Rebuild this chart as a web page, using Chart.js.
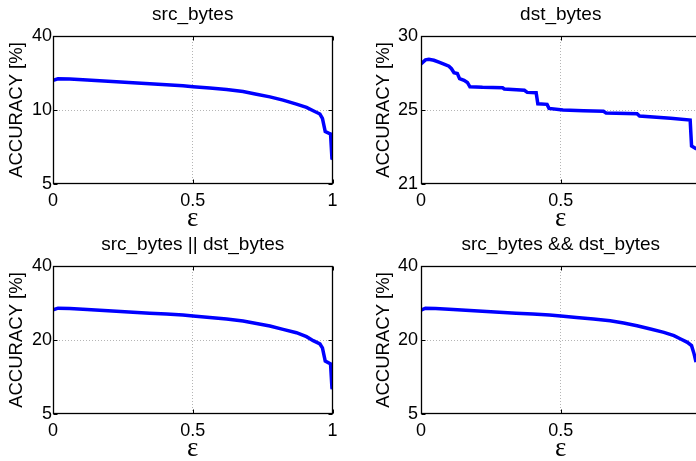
<!DOCTYPE html>
<html>
<head>
<meta charset="utf-8">
<title>ACCURACY vs ε</title>
<script src="https://cdn.jsdelivr.net/npm/chart.js@4.4.1/dist/chart.umd.min.js"></script>
<style>
  html, body { margin: 0; padding: 0; background: #fff; overflow: hidden; width: 696px; height: 461px; }
  canvas { position: absolute; }
</style>
</head>
<body>
<canvas id="c-src" width="348" height="230" style="left:0;top:0"></canvas>
<canvas id="c-dst" width="368" height="230" style="left:348px;top:0"></canvas>
<canvas id="c-or" width="348" height="230" style="left:0;top:230px"></canvas>
<canvas id="c-and" width="368" height="230" style="left:348px;top:230px"></canvas>
<script>
// ---- data ----
const xTicks = [0, 0.5, 1];

const srcEps = [0, 0.018, 0.06, 0.107, 0.167, 0.227, 0.286, 0.346, 0.406, 0.465, 0.501, 0.561, 0.621, 0.68,
                0.728, 0.776, 0.823, 0.871, 0.907, 0.931, 0.955, 0.964, 0.974, 0.988, 0.993, 0.998, 1.0];
const srcAcc = [22.0, 22.67, 22.53, 22.27, 21.87, 21.47, 21.07, 20.67, 20.27, 19.87, 19.47, 18.93, 18.27, 17.47,
                16.4, 15.33, 14.0, 12.4, 11.07, 9.95, 9.73, 9.44, 8.54, 8.42, 8.38, 6.73, 6.67];
const srcTicks = [5, 10, 40];

const dstEps = [0, 0.016, 0.028, 0.046, 0.064, 0.082, 0.1, 0.109, 0.118, 0.13, 0.138, 0.154, 0.166, 0.175,
                0.22, 0.292, 0.298, 0.37, 0.38, 0.412, 0.418, 0.451, 0.458, 0.508, 0.581, 0.653, 0.662, 0.773,
                0.782, 0.893, 0.963, 0.968, 0.983, 1.0];
const dstAcc = [28.12, 28.39, 28.43, 28.36, 28.23, 28.10, 27.96, 27.79, 27.52, 27.46, 27.12, 27.01, 26.86, 26.57,
                26.53, 26.50, 26.42, 26.33, 26.19, 26.17, 25.42, 25.38, 25.11, 25.0, 24.96, 24.93, 24.84, 24.80,
                24.67, 24.55, 24.46, 23.06, 22.92, 22.9];
const dstTicks = [21, 25, 30];

const orEps = [0, 0.018, 0.06, 0.107, 0.167, 0.227, 0.286, 0.346, 0.406, 0.465, 0.501, 0.561, 0.621, 0.68,
               0.728, 0.776, 0.823, 0.871, 0.907, 0.931, 0.955, 0.964, 0.974, 0.988, 0.993, 0.998, 1.0];
const orAcc = [28.16, 28.61, 28.52, 28.34, 28.07, 27.80, 27.53, 27.26, 27.0, 26.73, 26.46, 26.10, 25.65, 25.11,
               24.48, 23.77, 22.87, 21.97, 20.90, 19.87, 19.20, 18.39, 15.71, 15.31, 15.18, 10.29, 10.09];
const orTicks = [5, 20, 40];

const andEps = [0, 0.016, 0.052, 0.1, 0.16, 0.22, 0.28, 0.34, 0.4, 0.46, 0.5, 0.556, 0.617, 0.677,
                0.725, 0.773, 0.821, 0.869, 0.905, 0.929, 0.953, 0.968, 0.977, 0.984];
const andAcc = [28.07, 28.61, 28.52, 28.34, 28.07, 27.80, 27.53, 27.26, 27.0, 26.73, 26.46, 26.10, 25.65, 25.20,
                24.57, 23.86, 22.96, 22.06, 21.17, 20.27, 19.53, 18.86, 17.19, 15.51];
const andTicks = [5, 20, 40];

// ---- y scale: tick values are evenly spaced, linear in between ----
class PiecewiseScale extends Chart.LinearScale {
    static id = 'piecewise';
    static defaults = { ticks: { callback: (v) => String(v) } };

    buildTicks() {
        return this.options.breaks.map(v => ({ value: v }));
    }

    getPixelForValue(value) {
        const b = this.options.breaks;
        const n = b.length - 1;
        let i = 0;
        while (i < n - 1 && value > b[i + 1]) i++;
        const pos = i + (value - b[i]) / (b[i + 1] - b[i]);
        return this.getPixelForDecimal(pos / n);
    }

    getValueForPixel(pixel) {
        const b = this.options.breaks;
        const n = b.length - 1;
        const pos = this.getDecimalForPixel(pixel) * n;
        const i = Math.min(Math.max(Math.floor(pos), 0), n - 1);
        return b[i] + (pos - i) * (b[i + 1] - b[i]);
    }
}
Chart.register(PiecewiseScale);

// black box round the plot with small inward tick marks
const axesBox = {
    id: 'axesBox',
    afterDraw(chart) {
        const { ctx, chartArea: a, scales: { x, y } } = chart;
        const L = Math.round(a.left) + 0.5, R = Math.round(a.right) - 0.5;
        const T = Math.round(a.top) + 0.5, B = Math.round(a.bottom) - 0.5;
        ctx.save();
        ctx.strokeStyle = '#000';
        ctx.lineWidth = 1.3;
        ctx.strokeRect(L, T, R - L, B - T);
        ctx.lineWidth = 1;
        ctx.beginPath();
        x.ticks.forEach((t, i) => {
            const px = Math.round(x.getPixelForTick(i)) + 0.5;
            ctx.moveTo(px, B); ctx.lineTo(px, B - 4);
            ctx.moveTo(px, T); ctx.lineTo(px, T + 4);
        });
        y.ticks.forEach((t, i) => {
            const py = Math.round(y.getPixelForTick(i)) + 0.5;
            ctx.moveTo(L, py); ctx.lineTo(L + 4, py);
            ctx.moveTo(R, py); ctx.lineTo(R - 4, py);
        });
        ctx.stroke();
        ctx.restore();
    }
};

Chart.defaults.font.family = '"Liberation Sans", Arial, Helvetica, sans-serif';
Chart.defaults.font.size = 18;
Chart.defaults.color = '#000';
Chart.defaults.animation = false;

const midGrid = (c) => (c.index === 1 ? '#b5b5b5' : 'rgba(0,0,0,0)');

function makeChart(id, title, eps, acc, yTicks, axisW, labelPad, yTitlePad) {
    return new Chart(document.getElementById(id), {
        type: 'line',
        data: {
            datasets: [{
                data: eps.map((e, i) => ({ x: e, y: acc[i] })),
                borderColor: '#0000ff',
                backgroundColor: '#0000ff',
                borderWidth: 3.5,
                pointRadius: 0,
                tension: 0
            }]
        },
        options: {
            responsive: false,
            events: [],
            layout: { padding: { left: 0, right: 15.5, top: 0, bottom: 0 } },
            plugins: {
                legend: { display: false },
                tooltip: { enabled: false },
                title: {
                    display: true,
                    text: title,
                    fullSize: false,
                    font: { size: 19, weight: 'normal' },
                    padding: { top: 3.4, bottom: 9.8 }
                }
            },
            scales: {
                x: {
                    type: 'linear',
                    min: 0,
                    max: 1,
                    afterBuildTicks: (s) => { s.ticks = xTicks.map(v => ({ value: v })); },
                    afterFit: (s) => { s.height = 46; },
                    ticks: { padding: 6, maxRotation: 0, autoSkip: false, callback: (v) => String(v) },
                    grid: { color: midGrid, drawTicks: false, lineWidth: 1 },
                    border: { display: false, dash: [1, 2] },
                    title: {
                        display: true,
                        text: 'ε',
                        font: { family: '"Liberation Serif", "Times New Roman", serif', size: 27, lineHeight: 0.8 },
                        padding: { top: 0, bottom: 0 }
                    }
                },
                y: {
                    type: 'piecewise',
                    breaks: yTicks,
                    min: yTicks[0],
                    max: yTicks[yTicks.length - 1],
                    afterFit: (s) => { s.width = axisW; },
                    ticks: { padding: labelPad, autoSkip: false },
                    grid: { color: midGrid, drawTicks: false, lineWidth: 1 },
                    border: { display: false, dash: [1, 2] },
                    title: {
                        display: true,
                        text: 'ACCURACY [%]',
                        font: { size: 18.5 },
                        padding: { top: yTitlePad, bottom: 0 }
                    }
                }
            }
        },
        plugins: [axesBox]
    });
}

makeChart('c-src', 'src_bytes', srcEps, srcAcc, srcTicks, 53, 1, 5.7);
makeChart('c-dst', 'dst_bytes', dstEps, dstAcc, dstTicks, 73, 3, 24.7);
makeChart('c-or', 'src_bytes || dst_bytes', orEps, orAcc, orTicks, 53, 1, 5.7);
makeChart('c-and', 'src_bytes && dst_bytes', andEps, andAcc, andTicks, 73, 3, 24.7);
</script>
</body>
</html>
